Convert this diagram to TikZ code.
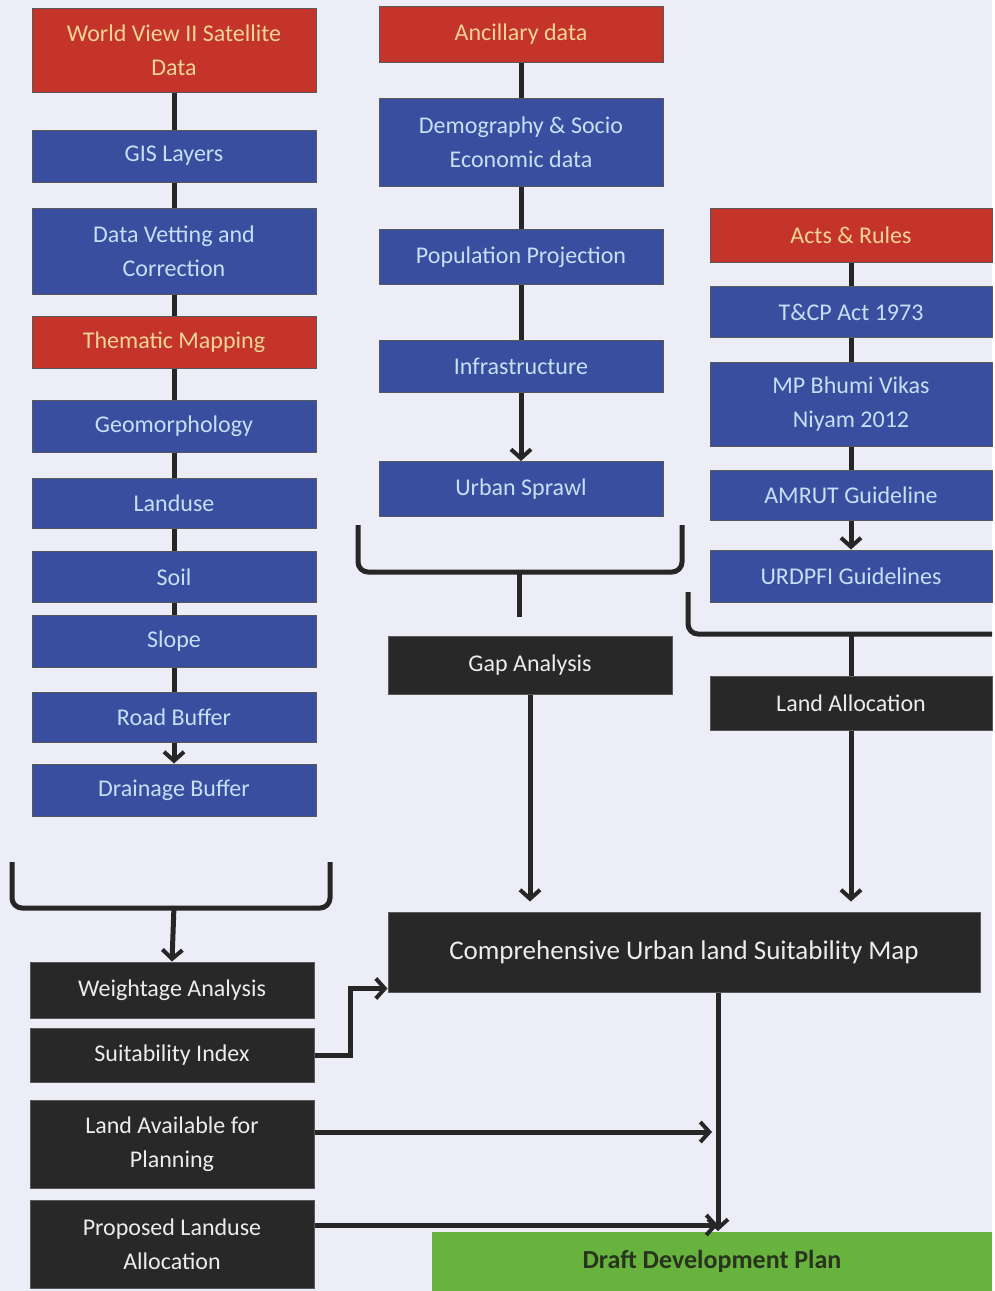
\documentclass[tikz,border=0pt]{standalone}
\usepackage{fontspec}
\setmainfont{Carlito}
\usepackage{xcolor}
\usepackage{tikz}
\usetikzlibrary{calc,arrows.meta}

\definecolor{paper}{RGB}{236,237,246}
\definecolor{boxred}{RGB}{196,52,42}
\definecolor{redtxt}{RGB}{240,212,150}
\definecolor{boxblue}{RGB}{58,78,160}
\definecolor{bluetxt}{RGB}{196,224,244}
\definecolor{boxblack}{RGB}{40,40,40}
\definecolor{blacktxt}{RGB}{236,236,236}
\definecolor{boxgreen}{RGB}{104,178,62}
\definecolor{greentxt}{RGB}{40,52,30}

\tikzset{
  box/.style={rectangle, minimum width=284pt, align=center, inner sep=2pt,
    draw=black!65, line width=1pt, font=\fontsize{24}{34}\selectfont},
  redbox/.style={box, fill=boxred, text=redtxt},
  bluebox/.style={box, fill=boxblue, text=bluetxt},
  darkbox/.style={box, fill=boxblack, text=blacktxt},
  link/.style={line width=5pt, black!85},
  brace/.style={line width=5pt, black!85, rounded corners=10pt},
  >={Straight Barb[length=9pt,width=20pt,line width=4pt]}
}

\begin{document}
\begin{tikzpicture}[x=1pt,y=-1pt]
\fill[paper] (0,0) rectangle (992,1291);

% left column
\node[redbox, minimum height=84pt] (wv) at (174,50) {World View II Satellite\\Data};
\node[bluebox, minimum height=52pt] (gis) at (174,156) {GIS Layers};
\node[bluebox, minimum height=86pt] (vet) at (174,251) {Data Vetting and\\Correction};
\node[redbox, minimum height=52pt] (them) at (174,342) {Thematic Mapping};
\node[bluebox, minimum height=52pt] (geo) at (174,426) {Geomorphology};
\node[bluebox, minimum height=50pt] (lu) at (174,503) {Landuse};
\node[bluebox, minimum height=51pt] (soil) at (174,577) {Soil};
\node[bluebox, minimum height=52pt] (slope) at (174,641) {Slope};
\node[bluebox, minimum height=50pt] (road) at (174,717) {Road Buffer};
\node[bluebox, minimum height=52pt] (drain) at (174,790) {Drainage Buffer};

\node[darkbox, minimum height=56pt] (wt) at (172,990) {Weightage Analysis};
\node[darkbox, minimum height=54pt] (suit) at (172,1055) {Suitability Index};
\node[darkbox, minimum height=88pt] (avail) at (172,1144) {Land Available for\\Planning};
\node[darkbox, minimum height=88pt] (prop) at (172,1244) {Proposed Landuse\\Allocation};

% middle column
\node[redbox, minimum height=56pt] (anc) at (521,34) {Ancillary data};
\node[bluebox, minimum height=88pt] (demo) at (521,142) {Demography \& Socio\\Economic data};
\node[bluebox, minimum height=55pt] (pop) at (521,257) {Population Projection};
\node[bluebox, minimum height=52pt] (infra) at (521,366) {Infrastructure};
\node[bluebox, minimum height=55pt] (sprawl) at (521,489) {Urban Sprawl};
\node[darkbox, minimum height=58pt] (gap) at (530,665) {Gap Analysis};

% right column
\node[redbox, minimum width=282pt, minimum height=54pt] (acts) at (851,235) {Acts \& Rules};
\node[bluebox, minimum width=282pt, minimum height=51pt] (tcp) at (851,312) {T\&CP Act 1973};
\node[bluebox, minimum width=282pt, minimum height=84pt] (mp) at (851,404) {MP Bhumi Vikas\\Niyam 2012};
\node[bluebox, minimum width=282pt, minimum height=50pt] (amrut) at (851,495) {AMRUT Guideline};
\node[bluebox, minimum width=282pt, minimum height=52pt] (urd) at (851,576) {URDPFI Guidelines};
\node[darkbox, minimum width=282pt, minimum height=54pt] (alloc) at (851,703) {Land Allocation};

% bottom
\node[darkbox, minimum width=592pt, minimum height=80pt, font=\fontsize{27}{32}\selectfont] (map) at (684,952) {Comprehensive Urban land Suitability Map};
\node[box, fill=boxgreen, text=greentxt, draw=none, minimum width=560pt, minimum height=59pt, font=\fontsize{26}{30}\selectfont\bfseries] (ddp) at (712,1261) {Draft Development Plan};

% chains
\draw[link] (wv) -- (gis);
\draw[link] (gis) -- (vet);
\draw[link] (vet) -- (them);
\draw[link] (them) -- (geo);
\draw[link] (geo) -- (lu);
\draw[link] (lu) -- (soil);
\draw[link] (soil) -- (slope);
\draw[link] (slope) -- (road);
\draw[link,->] (road) -- (drain);
\draw[link] (anc) -- (demo);
\draw[link] (demo) -- (pop);
\draw[link] (pop) -- (infra);
\draw[link,->] (infra) -- (sprawl);
\draw[link] (acts) -- (tcp);
\draw[link] (tcp) -- (mp);
\draw[link] (mp) -- (amrut);
\draw[link,->] (amrut) -- (urd);

% braces
\coordinate (lb1) at (12,862); \coordinate (lb2) at (330,862);
\draw[brace] (lb1) -- (12,908) -- (330,908) -- (lb2);
\draw[link,->] (174,906) -- (wt.north);
\coordinate (mb1) at (358,525); \coordinate (mb2) at (682,525);
\draw[brace] (mb1) -- (358,572) -- (682,572) -- (mb2);
\coordinate (ms) at (519,617);
\draw[link] (519,570) -- (ms);
\coordinate (rb1) at (688,592); \coordinate (rb2) at (992,634);
\draw[brace] (rb1) -- (688,634) -- (rb2);
\draw[link] (851,632) -- (alloc.north);

% into the map and the plan
\draw[link,->,shorten >=10pt] (gap.south) -- (gap.south |- map.north);
\draw[link,->,shorten >=10pt] (alloc.south) -- (alloc.south |- map.north);
\draw[link,->] (suit.east) -- ++(36,0) |- ([yshift=4pt]map.south west);
\coordinate (cd) at ([xshift=34pt]map.south);
\draw[link,->] (cd) -- (cd |- ddp.north);
\draw[link,->,shorten >=6pt] ([yshift=12pt]avail.east) -- ([yshift=12pt]avail.east -| cd);
\draw[link,->] ([yshift=19pt]prop.east) -- ([yshift=19pt]prop.east -| cd);
\end{tikzpicture}
\end{document}
